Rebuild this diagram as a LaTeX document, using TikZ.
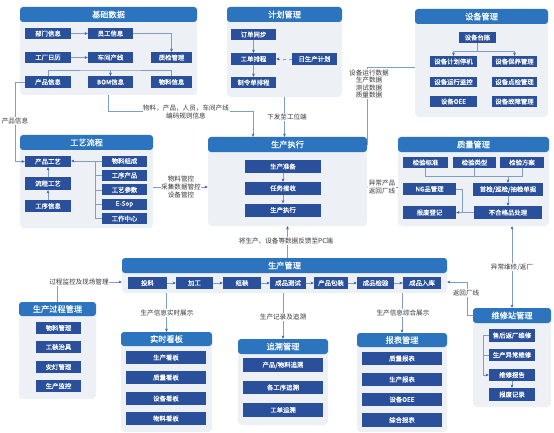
\documentclass[tikz,border=0pt]{standalone}
\usepackage{fontspec}
\setmainfont{Noto Sans CJK SC}
\newfontfamily\boldcjk[FakeBold=0.5]{Noto Sans CJK SC}
\usetikzlibrary{arrows.meta}
\definecolor{titlec}{RGB}{44,116,190}
\definecolor{boxc}{RGB}{42,79,155}
\definecolor{panelc}{RGB}{237,240,245}
\definecolor{linec}{RGB}{128,158,196}
\definecolor{arrowc}{RGB}{55,95,165}
\definecolor{labc}{RGB}{55,55,55}
\newcommand\mkpanel[7]{%
  \node[panelbg, minimum width={#4-#2}, minimum height={#5-#3}] (#1) at ({(#2+#4)/2},{(#3+#5)/2}) {};
  \node[titlebar, minimum width={#4-#2}, minimum height={#6-#3}] (#1t) at ({(#2+#4)/2},{(#3+#6)/2}) {#7};}
\newcommand\bx[6]{%
  \node[ibox, minimum width={#4-#2}, minimum height={#5-#3}] (#1) at ({(#2+#4)/2},{(#3+#5)/2}) {#6};}
\begin{document}
\begin{tikzpicture}[x=1pt,y=-1pt,
  panelbg/.style={fill=panelc, draw=none, rounded corners=4pt, inner sep=0pt},
  titlebar/.style={fill=titlec, draw=none, rounded corners=3pt, inner sep=0pt, text=white, font=\boldcjk\fontsize{8.2}{9}\selectfont},
  ibox/.style={fill=boxc, draw=none, inner sep=0pt, text=white, font=\boldcjk\fontsize{6.4}{7}\selectfont},
  ln/.style={draw=linec, line width=0.6pt},
  arr/.style={draw=linec, line width=0.6pt, -{Stealth[length=3.2pt,width=2.8pt,color=arrowc]}},
  arrb/.style={draw=linec, line width=0.6pt, {Stealth[length=3.2pt,width=2.8pt,color=arrowc]}-{Stealth[length=3.2pt,width=2.8pt,color=arrowc]}},
  lbl/.style={fill=white, inner sep=0.6pt, text=labc, align=center, font=\fontsize{6.6}{7.8}\selectfont}]
\useasboundingbox[fill=white] (0,0) rectangle (554,433);

% ---------- panels ----------
\mkpanel{jcP}{20}{7}{197}{95}{22}{基础数据}
\mkpanel{jhP}{227}{7}{342}{97}{22}{计划管理}
\mkpanel{sbP}{415}{9}{548}{117}{24}{设备管理}
\mkpanel{gyP}{20}{135}{153}{228}{150}{工艺流程}
\mkpanel{scP}{208}{137}{367}{226}{152}{生产执行}
\mkpanel{zlP}{398}{137}{549}{226}{152}{质量管理}
\mkpanel{glP}{122}{258}{447}{293}{273}{生产管理}
\mkpanel{gcP}{19}{302}{96}{399}{316}{生产过程管理}
\mkpanel{ssP}{121}{332}{212}{432}{346}{实时看板}
\mkpanel{zsP}{238}{339}{328}{425}{354}{追溯管理}
\mkpanel{bbP}{357}{333}{447}{432}{347}{报表管理}
\mkpanel{wxP}{473}{308}{551}{407}{323}{维修站管理}

% ---------- boxes ----------
% 基础数据
\bx{bm}{25}{28}{71}{39}{部门信息}
\bx{yg}{88}{28}{133}{39}{员工信息}
\bx{gc}{25}{52}{71}{63}{工厂日历}
\bx{cj}{88}{52}{133}{63}{车间产线}
\bx{zj}{151}{52}{192}{63}{质检管理}
\bx{cp}{25}{76}{71}{88}{产品信息}
\bx{bom}{88}{76}{133}{88}{BOM信息}
\bx{wl}{151}{76}{192}{88}{物料信息}
% 计划管理
\bx{dd}{231}{29}{276}{40}{订单同步}
\bx{gd}{231}{53}{276}{65}{工单排程}
\bx{zl}{231}{77}{276}{88}{制令单排程}
\bx{rs}{292}{53}{337}{65}{日生产计划}
% 设备管理
\bx{tz}{459}{32}{496}{43}{设备台账}
\bx{sjh}{430}{56}{477}{67}{设备计划停机}
\bx{sby}{492}{56}{537}{67}{设备保养管理}
\bx{syx}{430}{77}{477}{87}{设备运行监控}
\bx{sdj}{492}{77}{537}{87}{设备点检管理}
\bx{soee}{430}{96}{477}{107}{设备OEE}
\bx{sgz}{492}{96}{537}{107}{设备故障管理}
% 工艺流程
\bx{gycp}{25}{156}{71}{167}{产品工艺}
\bx{lcgy}{25}{177}{71}{190}{流程工艺}
\bx{gxxx}{25}{200}{71}{212}{工序信息}
\bx{wlzc}{102}{155.5}{147}{166.5}{物料组成}
\bx{gxcp}{102}{169.9}{147}{180.9}{工序产品}
\bx{gycs}{102}{184.3}{147}{195.3}{工艺参数}
\bx{esop}{102}{198.7}{147}{209.7}{E-Sop}
\bx{gzzx}{102}{213.1}{147}{224.1}{工作中心}
% 生产执行
\bx{zb}{245}{160}{321}{173}{生产准备}
\bx{js}{245}{182}{321}{194.5}{任务接收}
\bx{zx}{245}{203.5}{321}{216.5}{生产执行}
% 质量管理
\bx{bz}{403}{157}{448}{168}{检验标准}
\bx{lx}{453}{157}{496}{168}{检验类型}
\bx{fa}{500}{157}{544}{168}{检验方案}
\bx{ng}{403}{183}{456}{195}{NG品管理}
\bx{sj}{473}{183}{543}{196}{首检/巡检/抽检单据}
\bx{bf}{403}{206}{456}{219}{报废登记}
\bx{bhg}{474}{206}{542}{219}{不合格品处理}
% 生产管理
\bx{tl}{128}{277}{167}{289}{投料}
\bx{jg}{176}{277}{213}{289}{加工}
\bx{zz}{223}{277}{261}{289}{组装}
\bx{cpcs}{270}{277}{306}{289}{成品测试}
\bx{cpbz}{314}{277}{348}{289}{产品包装}
\bx{cpjy}{357}{277}{394}{289}{成品检验}
\bx{cprk}{403}{277}{441}{289}{成品入库}
% 生产过程管理
\bx{wlgl}{36}{322}{81}{334}{物料管理}
\bx{gzzj}{36}{341}{81}{353}{工装治具}
\bx{adgl}{36}{361}{81}{373}{安灯管理}
\bx{scjk}{36}{380}{81}{392}{生产监控}
% 实时看板
\bx{sckb}{126}{351}{206}{364}{生产看板}
\bx{zlkb}{126}{371}{206}{384}{质量看板}
\bx{sbkb}{126}{392}{206}{405}{设备看板}
\bx{wlkb}{126}{412}{206}{425}{物料看板}
% 追溯管理
\bx{cpzs}{243}{358}{323}{372}{产品/物料追溯}
\bx{gxzs}{243}{381}{323}{394}{各工序追溯}
\bx{gdzs}{243}{403}{323}{417}{工单追溯}
% 报表管理
\bx{zlbb}{362}{352}{442}{365}{质量报表}
\bx{scbb}{362}{373}{442}{386}{生产报表}
\bx{sboee}{362}{393}{442}{406}{设备OEE}
\bx{zhbb}{362}{413}{442}{427}{综合报表}
% 维修站管理
\bx{sh}{489}{329}{535}{342}{售后返厂维修}
\bx{yc}{489}{349}{535}{361}{生产异常维修}
\bx{bg}{489}{369}{535}{381}{维修报告}
\bx{bfjl}{489}{388}{535}{401}{报废记录}

% ---------- connectors inside panels ----------
\draw[arr] (bm) -- (yg);
\draw[arr] (yg.east) -| (zj.north);
\draw[arr] (gc) -- (cj);
\coordinate (j1) at (110.5,70);
\draw[ln] (cp.north) |- (j1) -| (wl.north);
\draw[arr] (j1) -- (bom.north);

\draw[arr] (dd) -- (gd);
\draw[arr] (gd) -- (zl);
\draw[arr,dashed] (rs) -- (gd);

\coordinate (s1) at (0,51);
\draw[ln] (tz.south) -- (tz.south |- s1);
\draw[arr] (tz.south |- s1) -| (sjh.north);
\draw[arr] (tz.south |- s1) -| (sby.north);

\draw[arr] (gxxx) -- (lcgy);
\draw[arr] (lcgy) -- (gycp);
\coordinate (g1) at (95,0);
\draw[ln] (wlzc.west -| g1) -- (gzzx.west -| g1);
\foreach \n in {gxcp,gycs,esop,gzzx} \draw[ln] (\n.west) -- (\n.west -| g1);
\draw[arr] (wlzc.west) -- (gycp.east |- wlzc.west);

\draw[arr] (zb) -- (js);
\draw[arr] (js) -- (zx);

\coordinate (q1) at (0,176);
\draw[ln] (bz.south) |- (fa.south |- q1) -- (fa.south);
\draw[ln] (lx.south) -- (lx.south |- q1);
\draw[arr] (sj.north |- q1) -- (sj.north);
\draw[arr] (sj) -- (bhg);
\draw[arr] (bhg.west) -- (bf.east);
\coordinate (q2) at (462,0);
\draw[ln] (ng.east) -| (bf.east -| q2);

\draw[arr] (tl) -- (jg);
\draw[arr] (jg) -- (zz);
\draw[arr] (zz) -- (cpcs);
\draw[arr] (cpcs) -- (cpbz);
\draw[arr] (cpbz) -- (cpjy);
\draw[arr] (cpjy) -- (cprk);

\coordinate (w1) at (483,0);
\draw[ln] (sh.west) -| (bg.west -| w1);
\draw[ln] (yc.west) -- (yc.west -| w1);
\draw[arr] (bg.west -| w1) -- (bg.west);
\draw[arr] (bg) -- (bfjl);

% ---------- connectors between panels ----------
\coordinate (k1) at (253,111);
\draw[arr] (jcP.south) |- (k1) -- (k1 |- scP.north);
\draw[arr] (jhP.south) -- (jhP.south |- scP.north);
\coordinate (k2) at (367,67);
\coordinate (k3) at (367,144);
\draw[arr] (k2 -| sbP.west) -- (k2) -- (k3) -- (k3 -| scP.east);
\coordinate (y187) at (0,187);
\draw[arr] (gyP.east |- y187) -- (scP.west |- y187);
\draw[arr] (zlP.west |- y187) -- (scP.east |- y187);
\draw[arr] (scP.south |- glP.north) -- (scP.south);
\draw[arr] (cp.west) -- ++(-10,0) |- (gycp.west);
\coordinate (k5) at (512,0);
\draw[arrb] (zlP.south -| k5) -- (wxP.north -| k5);
\coordinate (k6) at (467,315);
\coordinate (k7) at (467,282);
\draw[arr] (k6 -| wxP.west) -- (k6) -- (k7) -- (k7 -| glP.east);
\coordinate (k8) at (57,282);
\draw[arr] (gcP.north -| k8) -- (k8) -- (k8 -| glP.west);
\draw[arr] (glP.south -| ssP.north) -- (ssP.north);
\draw[arr] (glP.south -| zsP.north) -- (zsP.north);
\draw[arr] (glP.south -| bbP.north) -- (bbP.north);

% ---------- labels ----------
\node[lbl] (l1) at (186,112) {物料，产品，人员，车间产线\\编码规则信息};
\node[lbl] (l2) at (287,117) {下发至工位端};
\node[lbl, font=\fontsize{6.6}{7.6}\selectfont] (l3) at (369,84) {设备运行数据\\生产数据\\测试数据\\质量数据};
\node[lbl] (l4) at (15,121) {产品信息};
\node[lbl] (l5) at (181,187) {物料管控\\采集数据管控\\设备管控};
\node[lbl] (l6) at (382,187) {异常产品\\返回厂线};
\node[lbl] (l7) at (286,241) {将生产、设备等数据反馈至PC端};
\node[lbl] (l8) at (79,282) {过程监控及现场管理};
\node[lbl] (l9) at (512,267) {异常维修/返厂};
\node[lbl] (l10) at (466,293) {返回厂线};
\node[lbl] (l11) at (167,313) {生产信息实时展示};
\node[lbl] (l12) at (283,317) {生产记录及追溯};
\node[lbl] (l13) at (403,313) {生产信息综合展示};
\end{tikzpicture}
\end{document}
